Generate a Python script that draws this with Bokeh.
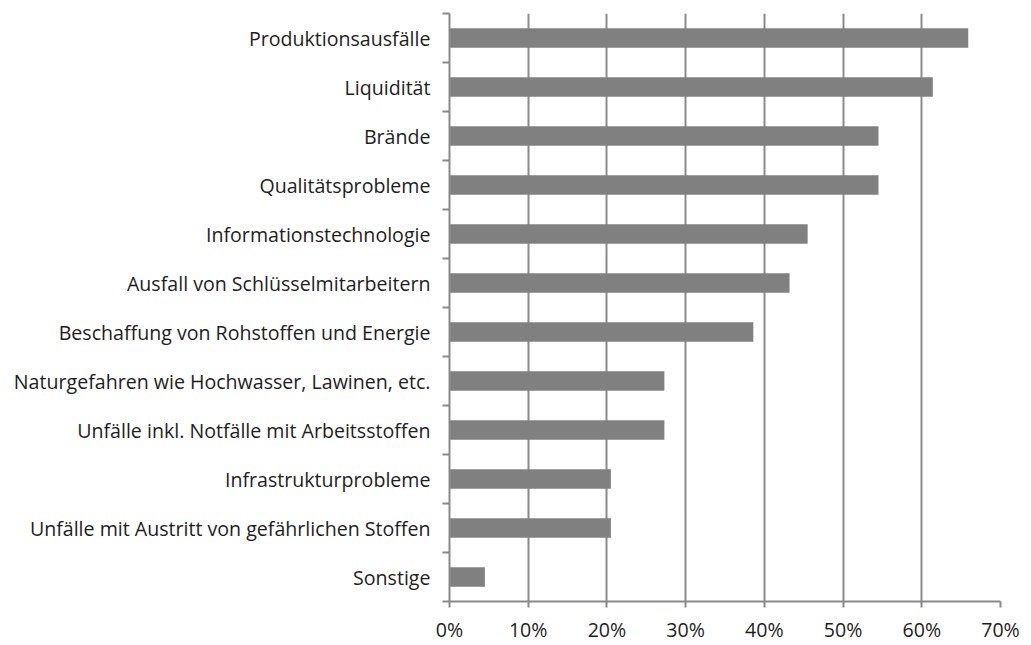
from bokeh.plotting import figure
from bokeh.models import Range1d, FixedTicker, PrintfTickFormatter
from bokeh.embed import file_html
from bokeh.resources import INLINE

categories = [
    "Produktionsausfälle",
    "Liquidität",
    "Brände",
    "Qualitätsprobleme",
    "Informationstechnologie",
    "Ausfall von Schlüsselmitarbeitern",
    "Beschaffung von Rohstoffen und Energie",
    "Naturgefahren wie Hochwasser, Lawinen, etc.",
    "Unfälle inkl. Notfälle mit Arbeitsstoffen",
    "Infrastrukturprobleme",
    "Unfälle mit Austritt von gefährlichen Stoffen",
    "Sonstige",
]
values = [65.9, 61.4, 54.5, 54.5, 45.5, 43.2, 38.6, 27.3, 27.3, 20.5, 20.5, 4.5]
x_ticks = [0, 10, 20, 30, 40, 50, 60, 70]

n = len(categories)
ypos = [i + 0.5 for i in range(n)]
FONT = "Open Sans"
TEXT = "#1e1e1e"
GRAY = "#8a8a8a"

p = figure(width=1025, height=645, output_backend="svg", toolbar_location=None,
           x_range=Range1d(0, 70), y_range=Range1d(n, 0),
           min_border_left=449, min_border_right=25, min_border_top=13, min_border_bottom=36)
p.outline_line_color = None
p.background_fill_color = "white"

p.hbar(y=ypos, right=values, left=0, height=0.4, color="#808080", line_color=None)

# x axis
p.xaxis.ticker = FixedTicker(ticks=x_ticks, minor_ticks=[])
p.xaxis.formatter = PrintfTickFormatter(format="%d%%")
p.xaxis.axis_line_color = GRAY
p.xaxis.axis_line_width = 2
p.xaxis.major_tick_line_color = GRAY
p.xaxis.major_tick_line_width = 2
p.xaxis.major_tick_out = 6
p.xaxis.major_tick_in = 0
p.xaxis.minor_tick_line_color = None
p.xaxis.major_label_text_font = FONT
p.xaxis.major_label_text_font_size = "19.6px"
p.xaxis.major_label_text_color = TEXT
p.xaxis.major_label_standoff = 8

# y axis
p.yaxis.ticker = FixedTicker(ticks=ypos, minor_ticks=list(range(n + 1)))
p.yaxis.major_label_overrides = {y: c for y, c in zip(ypos, categories)}
p.yaxis.axis_line_color = GRAY
p.yaxis.axis_line_width = 2
p.yaxis.major_tick_line_color = None
p.yaxis.major_tick_out = 0
p.yaxis.major_tick_in = 0
p.yaxis.minor_tick_line_color = GRAY
p.yaxis.minor_tick_line_width = 2
p.yaxis.minor_tick_out = 7
p.yaxis.minor_tick_in = 0
p.yaxis.major_label_text_font = FONT
p.yaxis.major_label_text_font_size = "19.6px"
p.yaxis.major_label_text_color = TEXT
p.yaxis.major_label_standoff = 12

p.xgrid.grid_line_color = GRAY
p.xgrid.grid_line_width = 2
p.xgrid.ticker = FixedTicker(ticks=x_ticks)
p.ygrid.grid_line_color = None

open("out.html", "w").write(file_html(p, INLINE))
